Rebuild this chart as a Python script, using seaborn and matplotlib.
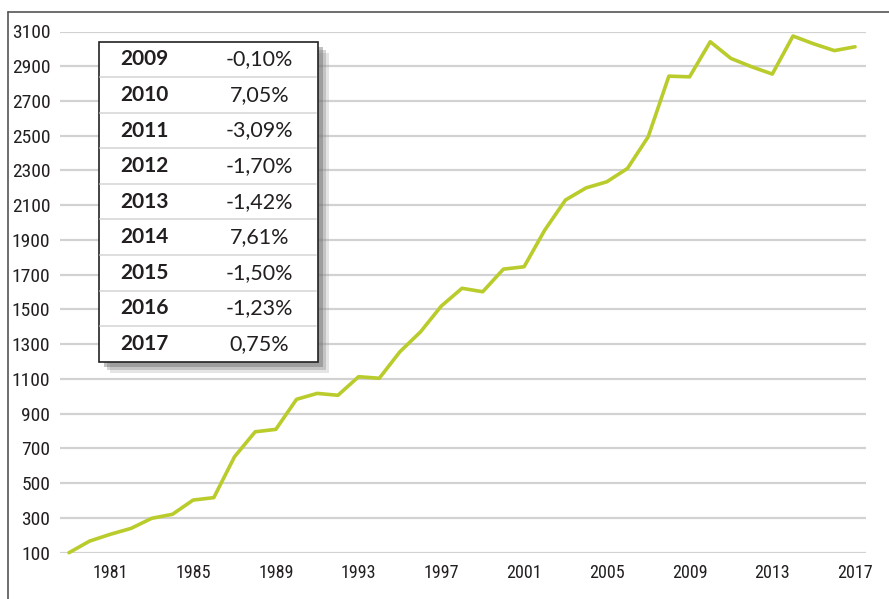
import matplotlib
matplotlib.use('Agg')
import numpy as np
import pandas as pd
import seaborn as sns
import matplotlib.pyplot as plt
import matplotlib.patheffects as pe
from matplotlib.patches import Rectangle
from matplotlib.lines import Line2D
from matplotlib import font_manager

# data
years = list(range(1979, 2018))
values = [100, 167, 206, 240, 298, 321, 403, 417, 652, 796,
          810, 983, 1017, 1006, 1113, 1104, 1257, 1372, 1520, 1622,
          1602, 1732, 1746, 1957, 2130, 2200, 2235, 2312, 2494, 2843,
          2839, 3041, 2945, 2897, 2855, 3074, 3029, 2990, 3012]
table_years = ['2009', '2010', '2011', '2012', '2013', '2014', '2015', '2016', '2017']
table_pct = ['-0,10%', '7,05%', '-3,09%', '-1,70%', '-1,42%', '7,61%', '-1,50%', '-1,23%', '0,75%']
xtick_years = list(range(1981, 2018, 4))
ytick_vals = list(range(100, 3101, 200))

df = pd.DataFrame({'year': years, 'value': values})

sns.set_style('white')
names = {f.name for f in font_manager.fontManager.ttflist}
narrow = [n for n in ['Liberation Sans Narrow', 'Roboto Condensed', 'DejaVu Sans'] if n in names]
plt.rcParams['font.family'] = narrow + ['DejaVu Sans']
plt.rcParams['font.stretch'] = 'condensed'

W, H = 889, 599
fig = plt.figure(figsize=(W / 100, H / 100), dpi=100)
ax = fig.add_axes([60 / W, 1 - 552.7 / H, 806 / W, 521.2 / H])

txt = '#231f20'
for v in ytick_vals:
    ax.axhline(v, color='#d2d2d2', lw=1.6, zorder=0)

sns.lineplot(data=df, x='year', y='value', ax=ax, color='#b9cc2c', lw=2.6,
             clip_on=False, zorder=3)

ax.set_xlim(1979 - 0.435, 2017 + 0.53)
ax.set_ylim(100, 3100)
ax.set_xticks(xtick_years)
ax.set_yticks(ytick_vals)
ax.tick_params(axis='y', length=0, pad=7, labelsize=14, labelcolor=txt)
ax.tick_params(axis='x', length=0, pad=8, labelsize=13, labelcolor=txt)
ax.set_xlabel('')
ax.set_ylabel('')
for s in ax.spines.values():
    s.set_visible(False)

# outer frame (top and left edges visible)
fig.add_artist(Line2D([8 / W, 1], [1 - 12 / H, 1 - 12 / H], color='#555555', lw=1.2))
fig.add_artist(Line2D([8 / W, 8 / W], [0, 1 - 12 / H], color='#555555', lw=1.2))

# inset table
tax = fig.add_axes([98.5 / W, 1 - 361.7 / H, 219 / W, 320 / H])
tax.set_xlim(0, 1)
tax.set_ylim(0, len(table_years))
tax.axis('off')
bg = Rectangle((0, 0), 1, len(table_years), facecolor='white', edgecolor='#222222',
               lw=1.2, zorder=1, clip_on=False,
               path_effects=[pe.SimplePatchShadow(offset=(8, -8), shadow_rgbFace='#aaaaaa', alpha=0.3),
                             pe.SimplePatchShadow(offset=(6, -6), shadow_rgbFace='#888888', alpha=0.35),
                             pe.SimplePatchShadow(offset=(4, -4), shadow_rgbFace='#666666', alpha=0.4),
                             pe.Normal()])
tax.add_patch(bg)
n = len(table_years)
tfont = ['Lato', 'DejaVu Sans']
for i, (yr, pc) in enumerate(zip(table_years, table_pct)):
    yc = n - i - 0.5
    tax.text(0.21, yc, yr, ha='center', va='center', fontsize=15, fontweight='bold',
             color=txt, family=tfont, fontstretch='normal', zorder=3)
    tax.text(0.735, yc, pc, ha='center', va='center', fontsize=15.5,
             color=txt, family=tfont, fontstretch='normal', zorder=3)
    if i > 0:
        tax.plot([0.005, 0.995], [n - i, n - i], color='#d8d8d8', lw=1.2, zorder=2)

fig.savefig('out.png', dpi=100)
